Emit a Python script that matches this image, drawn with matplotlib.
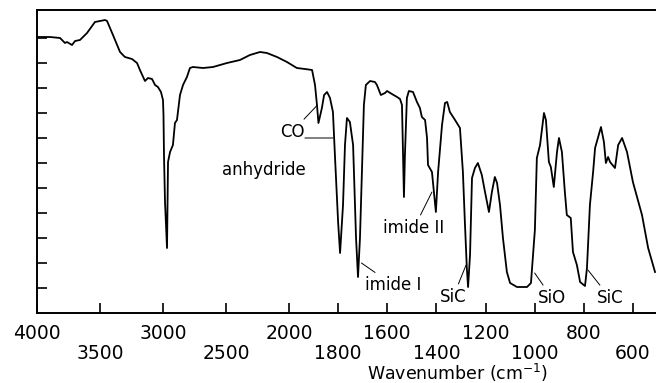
import numpy as np
import matplotlib
matplotlib.use("Agg")
import matplotlib.pyplot as plt

# IR spectrum (wavenumber in cm-1, transmittance in tick units)
wavenumber = [4000, 3897, 3817, 3778, 3762, 3722, 3698, 3659, 3603, 3540, 3500, 3460,
              3444, 3397, 3341, 3302, 3246, 3206, 3183, 3143, 3119, 3087, 3063, 3040,
              3016, 3000, 2996, 2992, 2984, 2968, 2960, 2944, 2921, 2905, 2889, 2865,
              2841, 2810, 2786, 2762, 2682, 2603, 2492, 2389, 2310, 2230, 2175, 2095,
              2016, 1968, 1935, 1906, 1894, 1886, 1880, 1866, 1857, 1845, 1833, 1821,
              1813, 1800, 1792, 1780, 1772, 1764, 1752, 1739, 1727, 1719, 1711, 1703,
              1695, 1687, 1670, 1650, 1642, 1626, 1609, 1601, 1581, 1560, 1548, 1540,
              1536, 1532, 1528, 1520, 1512, 1495, 1479, 1467, 1459, 1446, 1438, 1434,
              1418, 1410, 1402, 1393, 1377, 1365, 1356, 1345, 1324, 1304, 1292, 1284,
              1276, 1271, 1263, 1255, 1243, 1231, 1215, 1202, 1186, 1174, 1162, 1153,
              1141, 1129, 1113, 1100, 1072, 1031, 1015, 999, 991, 978, 962, 954,
              942, 934, 922, 909, 901, 889, 877, 869, 853, 844, 828, 815,
              795, 787, 775, 762, 754, 730, 718, 710, 701, 693, 673, 660,
              644, 624, 600, 563, 538, 510]
transmittance = [11.04, 11.04, 11.0, 10.8, 10.84, 10.72, 10.88, 10.92, 11.2, 11.64, 11.68, 11.72,
                 11.68, 11.12, 10.44, 10.24, 10.16, 10.0, 9.72, 9.28, 9.4, 9.36, 9.12, 9.04,
                 8.84, 8.52, 7.92, 6.32, 4.44, 2.6, 6.04, 6.44, 6.72, 7.6, 7.72, 8.72,
                 9.12, 9.44, 9.8, 9.84, 9.8, 9.84, 10.0, 10.12, 10.32, 10.44, 10.4, 10.24,
                 10.04, 9.8, 9.76, 9.72, 9.12, 8.32, 7.6, 8.2, 8.72, 8.84, 8.6, 8.04,
                 6.32, 3.64, 2.4, 4.32, 6.72, 7.8, 7.64, 6.72, 3.0, 1.44, 3.0, 5.64,
                 8.32, 9.12, 9.28, 9.24, 9.12, 8.72, 8.8, 8.88, 8.76, 8.64, 8.56, 8.32,
                 6.44, 4.64, 6.32, 8.6, 8.88, 8.84, 8.44, 8.2, 7.84, 7.72, 7.0, 5.92,
                 5.64, 4.84, 4.04, 5.64, 7.52, 8.4, 8.44, 8.04, 7.72, 7.4, 5.64, 3.64,
                 1.8, 1.04, 2.32, 5.4, 5.8, 6.0, 5.52, 4.84, 4.04, 4.84, 5.44, 5.2,
                 4.32, 3.0, 1.64, 1.2, 1.04, 1.04, 1.2, 3.32, 6.2, 6.72, 8.0, 7.72,
                 6.04, 5.84, 5.04, 6.44, 7.0, 6.44, 4.84, 3.92, 3.8, 2.44, 1.92, 1.24,
                 1.08, 1.8, 4.32, 5.64, 6.6, 7.44, 6.84, 6.0, 6.24, 6.04, 5.8, 6.72,
                 7.0, 6.44, 5.24, 3.92, 2.6, 1.64]

ticks_row1 = [4000, 3000, 2000, 1600, 1200, 800]
ticks_row2 = [3500, 2500, 1800, 1400, 1000, 600]

# band labels: (text, text position, point on curve)
bands = [
    ("CO", (1988, 7.24), (1886, 8.3)),
    ("imide II", (1491, 3.4), (1418, 4.84)),
    ("imide I", (1576, 1.12), (1705, 2.0)),
    ("SiC", (1332, 0.64), (1279, 1.92)),
    ("SiO", (929, 0.6), (1000, 1.6)),
    ("SiC", (693, 0.6), (783, 1.72)),
]

SPLIT = 2000
STRETCH = 1.95  # chart paper scale doubles below 2000 cm-1


def fwd(w):
    w = np.asarray(w, float)
    return np.where(w >= SPLIT, w, SPLIT - (SPLIT - w) * STRETCH)


def inv(u):
    u = np.asarray(u, float)
    return np.where(u >= SPLIT, u, SPLIT - (SPLIT - u) / STRETCH)


fig = plt.figure(figsize=(6.56, 3.83), dpi=100)
ax = fig.add_axes([37 / 656, 70 / 383, 619 / 656, 303 / 383])
ax.set_xscale("function", functions=(fwd, inv))

ax.plot(wavenumber, transmittance, color="black", lw=1.3)

ax.set_xlim(4000, 506)
ax.set_ylim(0, 12.12)

ax.set_xticks(ticks_row1)
ax.set_xticklabels([str(t) for t in ticks_row1])
ax.set_xticks(ticks_row2, minor=True)
ax.set_xticklabels([str(t) for t in ticks_row2], minor=True)
ax.tick_params(axis="x", which="both", direction="in", length=7, width=1.2,
               labelsize=13.5, top=False)
ax.tick_params(axis="x", which="major", pad=8)
ax.tick_params(axis="x", which="minor", pad=22)

ax.set_yticks(range(1, 12))
ax.set_yticklabels([])
ax.yaxis.set_minor_locator(matplotlib.ticker.NullLocator())
ax.tick_params(axis="y", direction="in", length=7, width=1.2, right=False)

for side in ["left", "bottom", "top"]:
    ax.spines[side].set_linewidth(1.4)
ax.spines["right"].set_visible(False)

ax.set_xlabel("Wavenumber (cm$^{-1}$)", fontsize=12.5)
ax.xaxis.set_label_coords(0.68, -0.163)

for text, txy, xy in bands:
    ax.annotate(text, xy=xy, xytext=txy, ha="center", va="center", fontsize=12,
                arrowprops=dict(arrowstyle="-", lw=0.7, color="black",
                                shrinkA=1, shrinkB=0))

# second leader of the CO label and the anhydride caption
ax.annotate("", xy=(1821, 7.0), xytext=(1935, 7.0),
            arrowprops=dict(arrowstyle="-", lw=0.7, color="black", shrinkA=0, shrinkB=0))
ax.text(2198, 5.72, "anhydride", ha="center", va="center", fontsize=12)

fig.savefig("out.png", dpi=100)
